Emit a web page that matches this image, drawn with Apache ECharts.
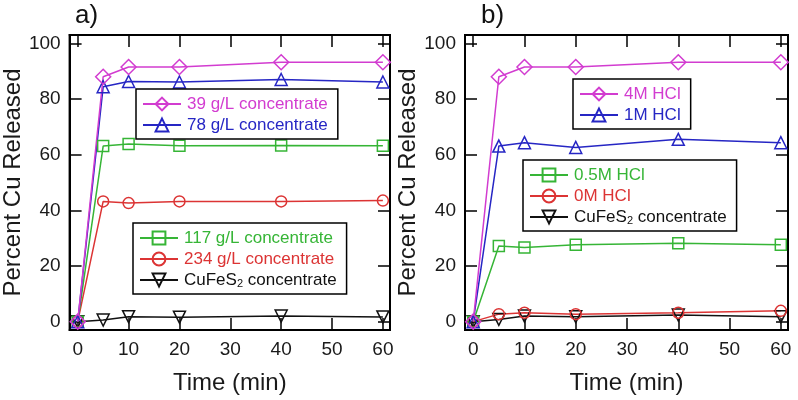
<!DOCTYPE html>
<html>
<head>
<meta charset="utf-8">
<script src="https://cdn.jsdelivr.net/npm/echarts@6/dist/echarts.min.js"></script>
<style>
  html, body { margin: 0; padding: 0; background: #fff; }
  #main { width: 798px; height: 400px; }
</style>
</head>
<body>
<div id="main"></div>
<script>
// sampling times (min)
const times = [0, 5, 10, 20, 40, 60];
const xTicks = [0, 10, 20, 30, 40, 50, 60];
const yTicks = [0, 20, 40, 60, 80, 100];

// panel a) pulp density
const aNames = ['39 g/L concentrate', '78 g/L concentrate', '117 g/L concentrate', '234 g/L concentrate', 'CuFeS2 concentrate'];
const a39 = [0, 88.0, 91.5, 91.5, 93.2, 93.2];
const a78 = [0, 84.4, 86.3, 86.1, 87.0, 86.1];
const a117 = [0, 63.1, 63.8, 63.2, 63.3, 63.2];
const a234 = [0, 43.2, 42.6, 43.2, 43.2, 43.5];
const aCuFeS2 = [0, 0.6, 1.8, 1.6, 2.0, 1.7];

// panel b) HCl concentration
const bNames = ['4M HCl', '1M HCl', '0.5M HCl', '0M HCl', 'CuFeS2 concentrate'];
const b4M = [0, 88.0, 91.5, 91.5, 93.2, 93.2];
const b1M = [0, 63.1, 64.3, 62.6, 65.5, 64.3];
const b05M = [0, 27.2, 26.6, 27.6, 28.2, 27.6];
const b0M = [0, 2.7, 3.2, 2.7, 3.2, 3.9];
const bCuFeS2 = [0, 0.8, 2.0, 1.8, 2.4, 1.8];

const MAG = '#d23cd0', BLU = '#2626c4', GRN = '#36b536', RED = '#dc3434', BLK = '#111';
const FONT = 'Liberation Sans, Arial, sans-serif';

function pairs(vals) {
  return times.map((t, i) => [t, vals[i]]);
}

function line(name, vals, color, symbol, size, rotate, axis) {
  return {
    type: 'line',
    name: name,
    xAxisIndex: axis,
    yAxisIndex: axis,
    data: pairs(vals),
    symbol: symbol,
    symbolSize: size,
    symbolRotate: rotate,
    showAllSymbol: true,
    lineStyle: { color: color, width: 1.5 },
    itemStyle: { color: 'rgba(255,255,255,0)', borderColor: color, borderWidth: 1.5 },
    emphasis: { disabled: true },
    animation: false
  };
}

function xAx(grid, top) {
  return {
    type: 'value', gridIndex: grid, position: top ? 'top' : 'bottom',
    min: -1.6, max: 61.4,
    axisLine: { show: true, onZero: false, lineStyle: { color: '#000', width: 2 } },
    axisTick: { show: true, inside: true, length: 12, customValues: xTicks, lineStyle: { color: '#000', width: 1.5 } },
    axisLabel: { show: !top, customValues: xTicks, margin: 10, fontSize: 19, color: '#1a1a1a', fontFamily: FONT },
    splitLine: { show: false },
    name: top ? '' : 'Time (min)', nameLocation: 'middle', nameGap: 41,
    nameTextStyle: { fontSize: 24, color: '#1a1a1a', fontFamily: FONT }
  };
}

function yAx(grid, right) {
  return {
    type: 'value', gridIndex: grid, position: right ? 'right' : 'left',
    min: -3, max: 103,
    axisLine: { show: true, onZero: false, lineStyle: { color: '#000', width: 2 } },
    axisTick: { show: true, inside: true, length: 12, customValues: yTicks, lineStyle: { color: '#000', width: 1.5 } },
    axisLabel: { show: !right, customValues: yTicks, margin: 9, fontSize: 19, color: '#1a1a1a', fontFamily: FONT },
    splitLine: { show: false },
    name: right ? '' : 'Percent Cu Released', nameLocation: 'middle', nameGap: 40,
    nameTextStyle: { fontSize: 24, color: '#1a1a1a', fontFamily: FONT }
  };
}

function legend(left, top, names, colors) {
  return {
    orient: 'vertical', left: left, top: top,
    padding: [6, 10, 5, 6],
    itemGap: 3, itemWidth: 38, itemHeight: 16,
    borderColor: '#000', borderWidth: 1.5, borderRadius: 0,
    selectedMode: false,
    data: names.map((n, i) => ({ name: n, textStyle: { color: colors[i] } })),
    formatter: n => n === 'CuFeS2 concentrate' ? 'CuFeS{sub|2} concentrate' : n,
    textStyle: {
      fontSize: 17, lineHeight: 18, fontFamily: FONT, padding: [0, 0, 0, 1],
      rich: { sub: { fontSize: 11, lineHeight: 2, verticalAlign: 'bottom', color: BLK, fontFamily: FONT } }
    }
  };
}

const chart = echarts.init(document.getElementById('main'), null, { renderer: 'canvas' });
chart.setOption({
  backgroundColor: '#fff',
  animation: false,
  title: [
    { text: 'a)', left: 70, top: -2, textStyle: { fontSize: 26, fontWeight: 'normal', color: '#111', fontFamily: FONT } },
    { text: 'b)', left: 476, top: -2, textStyle: { fontSize: 26, fontWeight: 'normal', color: '#111', fontFamily: FONT } }
  ],
  grid: [
    { left: 67, top: 35, width: 323, height: 298, show: true, borderColor: '#000', borderWidth: 2, backgroundColor: 'transparent' },
    { left: 465, top: 35, width: 323, height: 298, show: true, borderColor: '#000', borderWidth: 2, backgroundColor: 'transparent' }
  ],
  xAxis: [xAx(0, false), xAx(0, true), xAx(1, false), xAx(1, true)],
  yAxis: [yAx(0, false), yAx(0, true), yAx(1, false), yAx(1, true)],
  legend: [
    legend(136, 89, aNames.slice(0, 2), [MAG, BLU]),
    legend(133, 223, aNames.slice(2), [GRN, RED, BLK]),
    legend(573, 79, bNames.slice(0, 2), [MAG, BLU]),
    legend(523, 160, bNames.slice(2), [GRN, RED, BLK])
  ],
  series: [
    line(aNames[4], aCuFeS2, BLK, 'triangle', 12, 180, 0),
    line(aNames[3], a234, RED, 'circle', 11, 0, 0),
    line(aNames[2], a117, GRN, 'rect', 11, 0, 0),
    line(aNames[1], a78, BLU, 'triangle', 12, 0, 0),
    line(aNames[0], a39, MAG, 'diamond', 15, 0, 0),
    line(bNames[4], bCuFeS2, BLK, 'triangle', 12, 180, 2),
    line(bNames[3], b0M, RED, 'circle', 11, 0, 2),
    line(bNames[2], b05M, GRN, 'rect', 11, 0, 2),
    line(bNames[1], b1M, BLU, 'triangle', 12, 0, 2),
    line(bNames[0], b4M, MAG, 'diamond', 15, 0, 2)
  ]
});
</script>
</body>
</html>
